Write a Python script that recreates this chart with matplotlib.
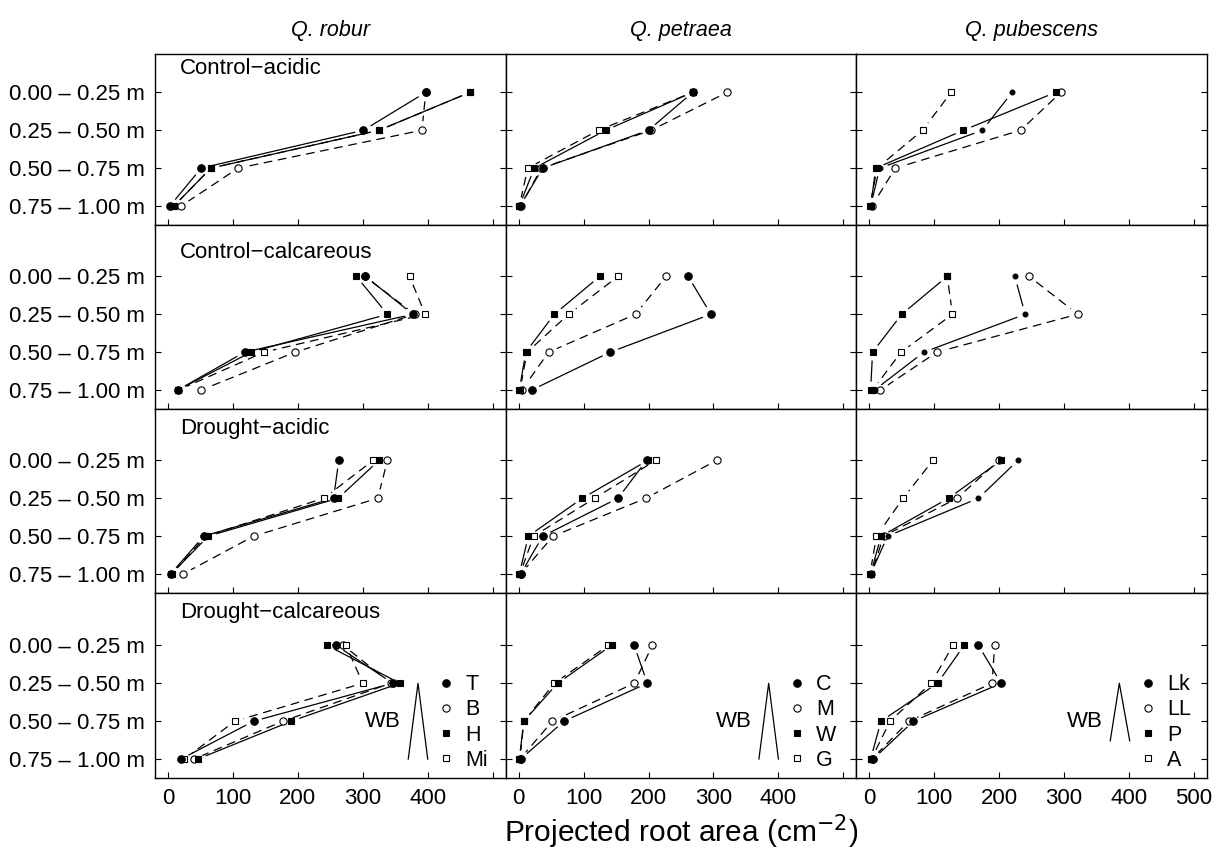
import numpy as np
import matplotlib
matplotlib.use("Agg")
import matplotlib.pyplot as plt
from matplotlib.lines import Line2D

plt.rcParams['font.family'] = ['Liberation Sans', 'DejaVu Sans']

# categorias
depths = ["0.00 – 0.25 m", "0.25 – 0.50 m", "0.50 – 0.75 m", "0.75 – 1.00 m"]
depth_pos = [1, 2, 3, 4]
species = ["Q. robur", "Q. petraea", "Q. pubescens"]
treatments = ["Control−acidic", "Control−calcareous", "Drought−acidic", "Drought−calcareous"]
provenances = [["T", "B", "H", "Mi"], ["C", "M", "W", "G"], ["Lk", "LL", "P", "A"]]

# area radicular proyectada, una fila por tratamiento, cuatro profundidades
robur_T = [[397, 301, 51, 3], [304, 377, 118, 15], [263, 255, 55, 4], [259, 346, 132, 20]]
robur_B = [[397, 391, 108, 20], [303, 380, 196, 51], [338, 323, 132, 23], [270, 343, 177, 40]]
robur_H = [[465, 325, 66, 9], [290, 338, 128, 15], [325, 262, 62, 5], [245, 357, 190, 46]]
robur_Mi = [[465, 325, 66, 9], [372, 396, 148, 16], [316, 240, 58, 6], [274, 300, 103, 25]]

petraea_C = [[268, 200, 37, 2], [261, 296, 141, 20], [197, 153, 37, 3], [178, 198, 70, 3]]
petraea_M = [[321, 204, 35, 3], [227, 180, 46, 5], [305, 196, 53, 3], [206, 178, 52, 2]]
petraea_W = [[268, 134, 24, 1], [125, 55, 11, 1], [199, 98, 15, 1], [143, 60, 8, 1]]
petraea_G = [[268, 123, 14, 1], [153, 77, 13, 2], [211, 117, 23, 2], [138, 55, 8, 2]]

pubescens_Lk = [[220, 174, 16, 2], [224, 240, 84, 8], [229, 168, 28, 2], [168, 203, 68, 6]]
pubescens_LL = [[295, 233, 40, 4], [246, 321, 104, 17], [200, 135, 22, 3], [193, 189, 61, 4]]
pubescens_P = [[287, 145, 10, 2], [120, 50, 5, 2], [203, 122, 18, 2], [146, 105, 18, 2]]
pubescens_A = [[126, 82, 12, 1], [120, 128, 49, 5], [98, 52, 11, 1], [129, 95, 32, 3]]

datos = [[robur_T, robur_B, robur_H, robur_Mi],
         [petraea_C, petraea_M, petraea_W, petraea_G],
         [pubescens_Lk, pubescens_LL, pubescens_P, pubescens_A]]

# cuña "WB" en la fila de abajo
wb_x = [[370, 385, 400], [370, 385, 400], [371, 385, 401]]
wb_y = [[4, 2, 4], [4, 2, 4], [3.52, 2, 3.52]]

# estilos: circulo lleno, circulo vacio, cuadrado lleno, cuadrado vacio
marcadores = ['o', 'o', 's', 's']
relleno = ['black', 'white', 'black', 'white']
tam = [5.4, 5.2, 4.8, 4.6]
estilos = ['-', (0, (7, 4.5)), '-', (0, (7, 4.5))]
orden = [3, 2, 3, 2]

GAP = 9  # px alrededor de cada punto (tipo "b" de R)
PX_POR_UNIDAD = 37.9

fig, axes = plt.subplots(4, 3, figsize=(12.25, 8.58), dpi=100,
                         gridspec_kw=dict(height_ratios=[171, 184, 184, 185],
                                          hspace=0, wspace=0,
                                          left=155 / 1225, right=1207 / 1225,
                                          top=1 - 54 / 858, bottom=1 - 778 / 858))


def linea_con_huecos(ax, xs, ys, **kw):
    pts = ax.transData.transform(np.column_stack([xs, ys]))
    inv = ax.transData.inverted()
    for p, q in zip(pts[:-1], pts[1:]):
        d = q - p
        largo = np.hypot(d[0], d[1])
        if largo <= 2 * GAP + 1:
            continue
        u = d / largo
        seg = inv.transform(np.array([p + u * GAP, q - u * GAP]))
        ax.plot(seg[:, 0], seg[:, 1], color='black', lw=0.9, **kw)


etiqueta_y = [0.38, 0.38, 0.15, 0.14]

for r in range(4):
    for c in range(3):
        ax = axes[r, c]
        ax.set_xlim(-20, 520)
        alto_px = ax.get_position().height * fig.get_figheight() * fig.dpi
        ax.set_ylim(4.5, 4.5 - alto_px / PX_POR_UNIDAD)

        for i in range(4):
            vals = datos[c][i][r]
            linea_con_huecos(ax, vals, depth_pos, ls=estilos[i], zorder=orden[i])
            ms = tam[i]
            if c == 2 and i == 0 and r < 3:
                ms = 3.5
            ax.plot(vals, depth_pos, ls='none', marker=marcadores[i], ms=ms,
                    mfc=relleno[i], mec='black', mew=0.8, zorder=orden[i] + 2)

        ax.set_xticks([0, 100, 200, 300, 400, 500])
        ax.set_yticks(depth_pos)
        ax.tick_params(direction='in', length=4.5, width=0.8, left=True, right=True,
                       top=False, bottom=True, labelsize=16, pad=7)
        if r == 3:
            if c == 2:
                ax.set_xticklabels(["0", "100", "200", "300", "400", "500"])
            else:
                ax.set_xticklabels(["0", "100", "200", "300", "400", ""])
        else:
            ax.set_xticklabels([])
        if c == 0:
            ax.set_yticklabels(depths)
            ax.text(19, etiqueta_y[r], treatments[r], fontsize=16, ha='left', va='center')
        else:
            ax.set_yticklabels([])
        for s in ax.spines.values():
            s.set_linewidth(1.0)

        if r == 0:
            ax.set_title(species[c], fontsize=15.5, style='italic', pad=13)

        if r == 3:
            ax.plot(wb_x[c], wb_y[c], color='black', lw=0.9)
            ax.text(359, 3.0, "WB", fontsize=16, ha='right', va='center')
            handles = [Line2D([], [], ls='none', marker=marcadores[i], ms=tam[i],
                              mfc=relleno[i], mec='black', mew=0.8) for i in range(4)]
            ax.legend(handles, provenances[c], loc='center left',
                      bbox_to_anchor=(0.80, 0.30), frameon=False, fontsize=15.5,
                      handlelength=1.0, handletextpad=0.4, labelspacing=0.2,
                      borderpad=0, borderaxespad=0)

fig.text((155 + 1207) / 2 / 1225, 1 - 832 / 858, "Projected root area (cm$^{-2}$)",
         fontsize=21.5, ha='center', va='center')

fig.savefig("out.png", dpi=100)
